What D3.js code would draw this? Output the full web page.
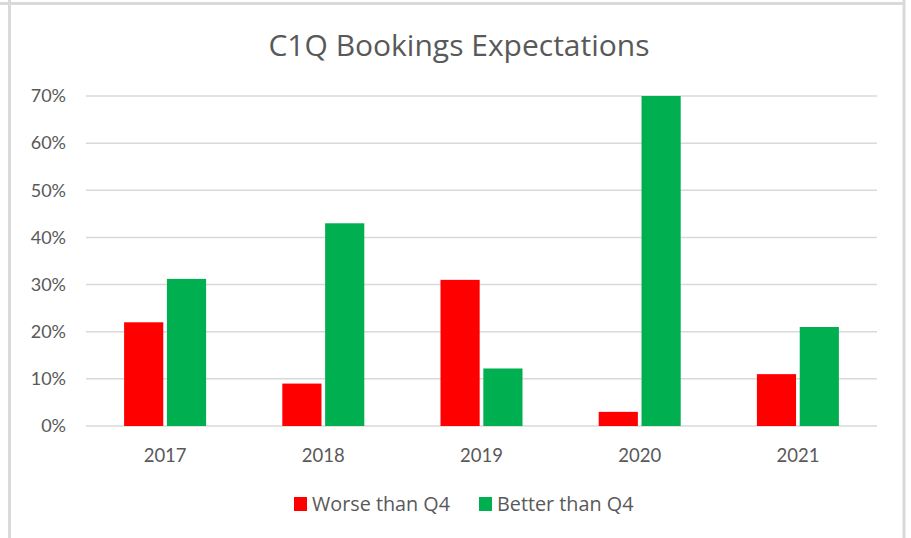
<!DOCTYPE html>
<html>
<head>
<meta charset="utf-8">
<script src="https://cdn.jsdelivr.net/npm/d3@7"></script>
<style>
  html, body { margin: 0; padding: 0; background: #fff; }
  svg { display: block; font-family: Lato, "Open Sans", sans-serif; }
</style>
</head>
<body>
<svg id="chart" width="911" height="538"></svg>
<script>
const title = "C1Q Bookings Expectations";
const categories = ["2017", "2018", "2019", "2020", "2021"];
const seriesNames = ["Worse than Q4", "Better than Q4"];
const worse = [22, 9, 31, 3, 11];
const better = [31.2, 43, 12.2, 70, 21];
const yTicks = [0, 10, 20, 30, 40, 50, 60, 70];
const colors = ["#FF0000", "#00B050"];

const svg = d3.select("#chart");
const W = 911, H = 538;

// chart frame
svg.append("line").attr("x1", 0).attr("x2", 905).attr("y1", 3.5).attr("y2", 3.5)
  .attr("stroke", "#D9D9D9").attr("stroke-width", 3);
svg.append("line").attr("x1", 9.5).attr("x2", 9.5).attr("y1", 0).attr("y2", H)
  .attr("stroke", "#D9D9D9").attr("stroke-width", 3);
svg.append("line").attr("x1", 904).attr("x2", 904).attr("y1", 0).attr("y2", H)
  .attr("stroke", "#D9D9D9").attr("stroke-width", 3);

const plot = { left: 86, right: 877, top: 96, bottom: 426 };

const x = d3.scaleBand().domain(categories).range([plot.left, plot.right]).padding(0);
const y = d3.scaleLinear().domain([0, 70]).range([plot.bottom, plot.top]);

// gridlines
svg.append("g").selectAll("line").data(yTicks).join("line")
  .attr("x1", plot.left).attr("x2", plot.right)
  .attr("y1", d => y(d)).attr("y2", d => y(d))
  .attr("stroke", "#D9D9D9").attr("stroke-width", 1.5);

// y axis labels
const yAxis = d3.axisLeft(y).tickValues(yTicks).tickFormat(d => d + "%").tickSize(0).tickPadding(20);
const gy = svg.append("g").attr("transform", `translate(${plot.left},0)`).call(yAxis);
gy.select(".domain").remove();
gy.selectAll("text").attr("fill", "#595959").style("font-size", "18px").style("font-family", "Lato, sans-serif");

// x axis labels
const xAxis = d3.axisBottom(x).tickSize(0).tickPadding(23);
const gx = svg.append("g").attr("transform", `translate(0,${plot.bottom})`).call(xAxis);
gx.select(".domain").remove();
gx.selectAll("text").attr("fill", "#595959").style("font-size", "18.5px").style("font-family", "Lato, sans-serif");

// bars
const barW = 37.5, gap = 7;
const x1 = d3.scaleBand().domain([0, 1]).range([-(barW + gap / 2), barW + gap / 2]).paddingInner(gap / (2 * barW + gap));
const data = categories.map((c, i) => ({ c, vals: [worse[i], better[i]] }));
const groups = svg.append("g").selectAll("g").data(data).join("g")
  .attr("transform", d => `translate(${x(d.c) + x.bandwidth() / 2},0)`);
groups.selectAll("rect").data(d => d.vals.map((v, k) => ({ v, k }))).join("rect")
  .attr("x", d => x1(d.k))
  .attr("width", x1.bandwidth())
  .attr("y", d => y(d.v))
  .attr("height", d => y(0) - y(d.v))
  .attr("fill", d => colors[d.k]);

// title
svg.append("text").attr("x", 459).attr("y", 56).attr("text-anchor", "middle")
  .attr("fill", "#595959").style("font-size", "30px").style("font-family", "'Open Sans', sans-serif")
  .text(title);

// legend
const legend = svg.append("g");
const legendX = [294, 479];
seriesNames.forEach((n, i) => {
  const g = legend.append("g").attr("transform", `translate(${legendX[i]},497)`);
  g.append("rect").attr("width", 13).attr("height", 14).attr("fill", colors[i]);
  g.append("text").attr("x", 18).attr("y", 14).attr("fill", "#595959")
    .style("font-size", "19.8px").style("font-family", "'Open Sans', sans-serif").text(n);
});
</script>
</body>
</html>
